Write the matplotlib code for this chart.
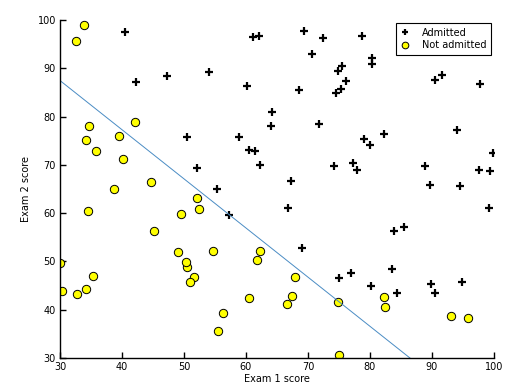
import numpy as np
import matplotlib
matplotlib.use("Agg")
import matplotlib.pyplot as plt

exam1 = [34.62365962451697,30.28671076822607,35.84740876993872,60.18259938620976,79.0327360507101,
45.08327747668339,61.10666453684766,75.02474556738889,76.09878670226257,84.43281996120035,
95.86155507093572,75.01365838958247,82.30705337399482,69.36458875970939,39.53833914367223,
53.9710521485623,69.07014406283025,67.94685547711617,70.66150955499435,76.97878372747498,
67.37202754570876,89.67677575072079,50.534788289883,34.21206097786789,77.9240914545704,
62.27101367004632,80.1901807509566,93.114388797442,61.83020602312595,38.78580379679423,
61.379289447425,85.40451939411645,52.10797973193984,52.04540476831827,40.23689373545111,
54.63510555424817,33.91550010906887,64.17698887494485,74.78925295941542,34.1836400264419,
83.90239366249155,51.54772026906181,94.44336776917852,82.36875375713919,51.04775177128865,
62.22267576120188,77.19303492601364,97.77159928000232,62.07306379667647,91.56497449807442,
79.94481794066932,99.2725269292572,90.54671411399852,34.52451385320009,50.2864961189907,
49.58667721632031,97.64563396007767,32.57720016809309,74.24869136721598,71.79646205863379,
75.3956114656803,35.28611281526193,56.25381749711624,30.05882244669796,44.66826172480893,
66.56089447242954,40.45755098375164,49.07256321908844,80.27957401466998,66.74671856944039,
32.72283304060323,64.0393204150601,72.34649422579923,60.45788573918959,58.84095621726802,
99.82785779692128,47.26426910848174,50.45815980285988,60.45555629271532,82.22666157785568,
88.9138964166533,94.83450672430196,67.31925746917527,57.23870631569862,80.36675600171273,
68.46852178591112,42.0754545384731,75.47770200533905,78.63542434898018,52.34800398794107,
94.09433112516793,90.44855097096364,55.48216114069585,74.49269241843041,89.84580670720979,
83.48916274498238,42.2617008099817,99.31500880510394,55.34001756003703,74.77589300092767]

exam2 = [78.0246928153624,43.89499752400101,72.90219802708364,86.30855209546826,75.3443764369103,
56.3163717815305,96.51142588489624,46.55401354116538,87.42056971926803,43.53339331072109,
38.22527805795094,30.60326323428011,76.48196330235604,97.71869196188608,76.03681085115882,
89.20735013750205,52.74046973016765,46.67857410673128,92.92713789364831,47.57596364975532,
42.83843832029179,65.79936592745237,48.85581152764205,44.20952859866288,68.9723599933059,
69.95445795447587,44.82162893218353,38.80067033713209,50.25610789244621,64.99568095539578,
72.80788731317097,57.05198397627122,63.12762376881715,69.43286012045222,71.16774802184875,
52.21388588061123,98.86943574220611,80.90806058670817,41.57341522824434,75.2377203360134,
56.30804621605327,46.85629026349976,65.56892160559052,40.61825515970618,45.82270145776001,
52.06099194836679,70.45820000180959,86.7278223300282,96.76882412413983,88.69629254546599,
74.16311935043758,60.99903099844988,43.39060180650027,60.39634245837173,49.80453881323059,
59.80895099453265,68.86157272420604,95.59854761387875,69.82457122657193,78.45356224515052,
85.75993667331619,47.02051394723416,39.26147251058019,49.59297386723685,66.45008614558913,
41.09209807936973,97.53518548909936,51.88321182073966,92.11606081344084,60.99139402740988,
43.30717306430063,78.03168802018232,96.22759296761404,73.09499809758037,75.85844831279042,
72.36925193383885,88.47586499559782,75.80985952982456,42.50840943572217,42.71987853716458,
69.80378889835472,45.69430680250754,66.58935317747915,59.51428198012956,90.96014789746954,
85.59430710452014,78.84478600148043,90.42453899753964,96.64742716885644,60.76950525602592,
77.15910509073893,87.50879176484702,35.57070347228866,84.84513684930135,45.35828361091658,
48.38028579728175,87.10385094025457,68.77540947206617,64.9319380069486,89.52981289513276]

admitted = [0,0,0,1,1,0,1,1,1,1,0,0,1,1,0,1,1,0,1,1,0,1,0,0,1,1,1,0,0,0,1,1,0,1,0,0,0,1,0,0,
1,0,1,0,0,0,1,1,1,1,1,1,1,0,0,0,1,0,1,1,1,0,0,0,0,0,1,0,1,1,0,1,1,1,1,1,1,1,0,0,
1,1,1,1,1,1,0,1,1,0,1,1,0,1,1,1,1,1,1,1]

# decision boundary parameters: theta0 + theta1*x1 + theta2*x2 = 0
theta = [-118.0, 1.018, 1.0]

x1 = np.array(exam1); x2 = np.array(exam2); y = np.array(admitted)

fig = plt.figure(figsize=(5.23, 3.92), dpi=100)
ax = fig.add_axes([60/523, 1-358/392, 434/523, 338/392])

pos = y == 1
neg = y == 0
ax.plot(x1[pos], x2[pos], '+', color='k', markersize=5.5, markeredgewidth=1.6, label='Admitted')
ax.plot(x1[neg], x2[neg], 'o', markerfacecolor='#ffff00', markeredgecolor='k',
        markersize=6, markeredgewidth=0.7, label='Not admitted')

px = np.array([min(exam1) - 2, max(exam1) + 2])
py = -(theta[0] + theta[1] * px) / theta[2]
ax.plot(px, py, color='#4a8cc4', linewidth=0.7)

ax.set_xlim(30, 100)
ax.set_ylim(30, 100)
ax.set_xticks(range(30, 101, 10))
ax.set_yticks(range(30, 101, 10))
for s in ['top', 'right']:
    ax.spines[s].set_visible(False)
for s in ['left', 'bottom']:
    ax.spines[s].set_linewidth(1.0)
ax.tick_params(direction='in', length=4, width=1, labelsize=7, pad=3)
ax.set_xlabel('Exam 1 score', fontsize=7, labelpad=1)
ax.set_ylabel('Exam 2 score', fontsize=7, labelpad=5)

leg = ax.legend(loc='upper right', fontsize=7, fancybox=False, framealpha=1,
                edgecolor='k', borderpad=0.45, handletextpad=1.2, handlelength=1.0,
                borderaxespad=0.35, labelspacing=0.25, markerscale=0.8)
leg.get_frame().set_linewidth(0.8)

fig.savefig('out.png', dpi=100)
